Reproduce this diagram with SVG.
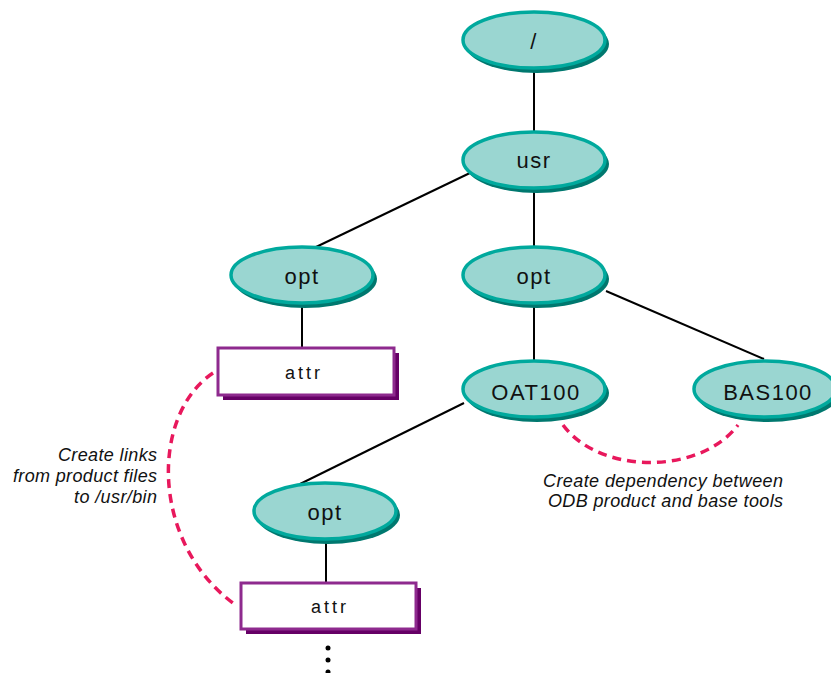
<svg xmlns="http://www.w3.org/2000/svg" width="831" height="673" viewBox="0 0 831 673">
<style>
.sh{fill:#00786F}
.el{fill:#9AD6D1;stroke:#00A99D;stroke-width:3.5}
.lbl{font-family:"Liberation Sans",Arial,sans-serif;font-size:22px;letter-spacing:1.5px;fill:#111;text-anchor:middle}
.bsh{fill:#660066}
.box{fill:#fff;stroke:#8E2A8E;stroke-width:3}
.blbl{font-family:"Liberation Sans",Arial,sans-serif;font-size:18px;letter-spacing:3px;fill:#111;text-anchor:middle}
.edge{stroke:#000;stroke-width:2;fill:none}
.dep{stroke:#E8185C;stroke-width:3.5;fill:none;stroke-dasharray:9 6}
.note{font-family:"Liberation Sans",Arial,sans-serif;font-size:18px;font-style:italic;fill:#111;text-anchor:end}
</style>
<g id="connectors">
<line class="edge" x1="534" y1="68" x2="534" y2="132"/>
<line class="edge" x1="472" y1="172" x2="316" y2="247"/>
<line class="edge" x1="534" y1="188" x2="534" y2="247"/>
<line class="edge" x1="302" y1="303" x2="302" y2="348"/>
<line class="edge" x1="534" y1="303" x2="534" y2="361"/>
<line class="edge" x1="606" y1="291" x2="764" y2="359"/>
<line class="edge" x1="464" y1="403" x2="300" y2="484"/>
<line class="edge" x1="326" y1="539" x2="326" y2="583"/>
<path class="dep" d="M213,373 C150,415 150,545 237,606"/>
<path class="dep" d="M563,425 C600,475 700,475 738,425"/>
</g>
<g id="n-root"><ellipse class="sh" cx="537" cy="44" rx="72" ry="29"/><ellipse class="el" cx="534" cy="40" rx="71" ry="28"/><text class="lbl" x="534" y="49">/</text></g>
<g id="n-usr"><ellipse class="sh" cx="537" cy="164" rx="72" ry="29"/><ellipse class="el" cx="534" cy="160" rx="71" ry="28"/><text class="lbl" x="534" y="168">usr</text></g>
<g id="n-optL"><ellipse class="sh" cx="305" cy="279" rx="72" ry="29"/><ellipse class="el" cx="302" cy="275" rx="71" ry="28"/><text class="lbl" x="302" y="284">opt</text></g>
<g id="n-optR"><ellipse class="sh" cx="537" cy="279" rx="72" ry="29"/><ellipse class="el" cx="534" cy="275" rx="71" ry="28"/><text class="lbl" x="534" y="284">opt</text></g>
<g id="n-oat"><ellipse class="sh" cx="537" cy="393" rx="72" ry="29"/><ellipse class="el" cx="534" cy="389" rx="71" ry="28"/><text class="lbl" x="536" y="400">OAT100</text></g>
<g id="n-bas"><ellipse class="sh" cx="768" cy="393" rx="72" ry="29"/><ellipse class="el" cx="765" cy="389" rx="71" ry="28"/><text class="lbl" x="768" y="400">BAS100</text></g>
<g id="n-optLow"><ellipse class="sh" cx="328" cy="515" rx="72" ry="29"/><ellipse class="el" cx="325" cy="511" rx="71" ry="28"/><text class="lbl" x="325" y="520">opt</text></g>
<g id="n-attr1"><rect class="bsh" x="223" y="353" width="176" height="47"/><rect class="box" x="218" y="348" width="176" height="47"/><text class="blbl" x="304" y="379">attr</text></g>
<g id="n-attr2"><rect class="bsh" x="246" y="588" width="175" height="46"/><rect class="box" x="241" y="583" width="175" height="46"/><text class="blbl" x="330" y="613">attr</text></g>
<g id="dots" fill="#000"><circle cx="328" cy="648" r="2.5"/><circle cx="328" cy="660" r="2.5"/><circle cx="328" cy="672" r="2.5"/></g>
<g id="note-links">
<text class="note" x="157" y="461" textLength="99" lengthAdjust="spacing">Create links</text>
<text class="note" x="157" y="482" textLength="144" lengthAdjust="spacing">from product files</text>
<text class="note" x="157" y="503" textLength="83" lengthAdjust="spacing">to /usr/bin</text>
</g>
<g id="note-dep">
<text class="note" x="783" y="487" textLength="240" lengthAdjust="spacing">Create dependency between</text>
<text class="note" x="783" y="507" textLength="235" lengthAdjust="spacing">ODB product and base tools</text>
</g>
</svg>
